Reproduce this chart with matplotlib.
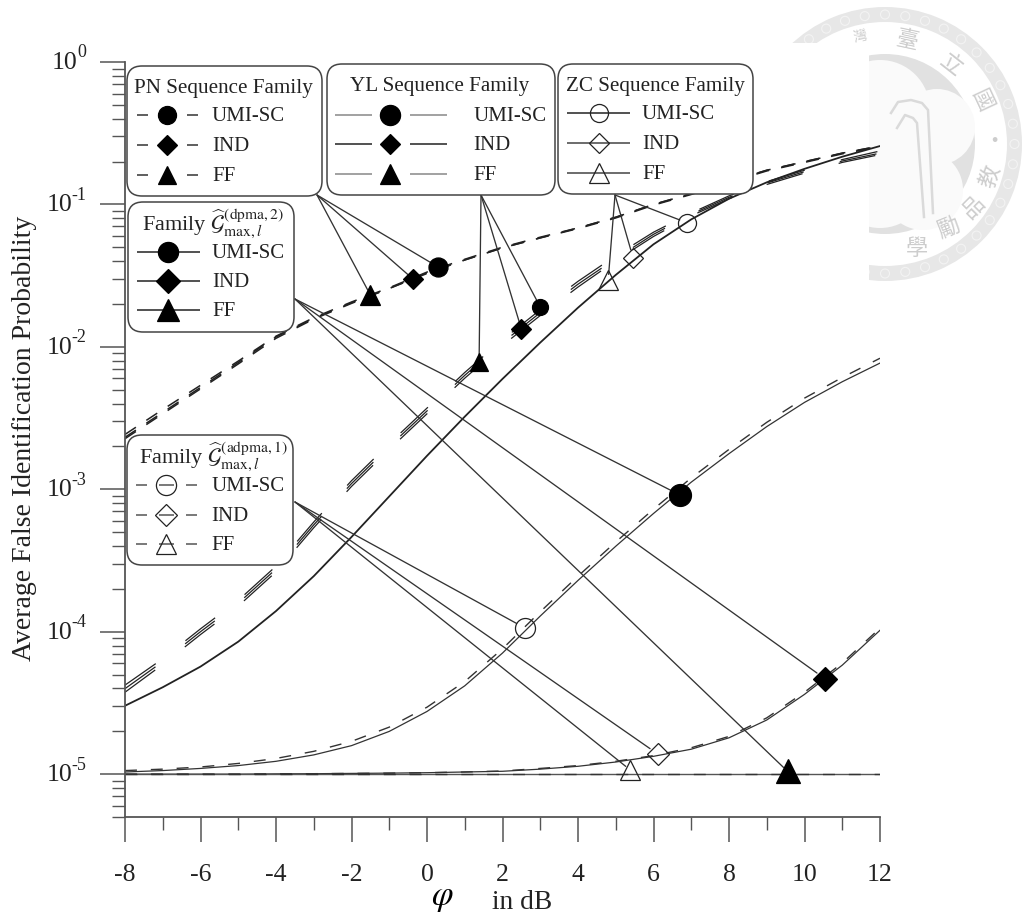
# -*- coding: utf-8 -*-
"""False identification probability vs phi for the sequence families."""
import numpy as np
import matplotlib
matplotlib.use("Agg")
import matplotlib.pyplot as plt
from matplotlib.patches import FancyBboxPatch, Wedge, Circle, Rectangle
from matplotlib.ticker import LogLocator, FixedLocator, NullFormatter

plt.rcParams['font.family'] = ['Liberation Serif', 'DejaVu Serif']
plt.rcParams['mathtext.fontset'] = 'stix'
plt.rcParams['axes.unicode_minus'] = False
plt.rcParams['lines.scale_dashes'] = False

W, H = 1024, 922
ink = '#222222'
axis_grey = '#555555'

# Data: log10 of the probability, one value per dB step
phi = [-8, -7, -6, -5, -4, -3, -2, -1, 0, 1, 2, 3, 4, 5, 6, 7, 8, 9, 10, 11, 12]

pn_umi = [-2.615, -2.44, -2.27, -2.10, -1.925, -1.795, -1.685, -1.585, -1.475, -1.385, -1.30,
          -1.23, -1.165, -1.09, -1.00, -0.925, -0.84, -0.76, -0.70, -0.64, -0.59]
pn_ind = [-2.635, -2.46, -2.285, -2.11, -1.93, -1.80, -1.69, -1.59, -1.48, -1.39, -1.305,
          -1.235, -1.165, -1.09, -1.00, -0.925, -0.84, -0.76, -0.70, -0.64, -0.59]
pn_ff = [-2.645, -2.47, -2.295, -2.12, -1.94, -1.805, -1.695, -1.59, -1.485, -1.39, -1.305,
         -1.235, -1.17, -1.095, -1.005, -0.93, -0.845, -0.765, -0.705, -0.645, -0.595]

yl_umi = [-4.375, -4.19, -3.98, -3.78, -3.54, -3.23, -2.94, -2.68, -2.43, -2.18, -1.95,
          -1.74, -1.54, -1.36, -1.195, -1.06, -0.94, -0.84, -0.76, -0.685, -0.625]
yl_ind = [-4.40, -4.21, -4.00, -3.80, -3.56, -3.25, -2.96, -2.70, -2.45, -2.20, -1.97,
          -1.76, -1.56, -1.38, -1.21, -1.07, -0.95, -0.85, -0.77, -0.695, -0.64]
yl_ff = [-4.425, -4.23, -4.02, -3.82, -3.58, -3.27, -2.98, -2.72, -2.47, -2.22, -1.99,
         -1.78, -1.58, -1.395, -1.225, -1.08, -0.96, -0.86, -0.78, -0.705, -0.65]

zc_all = [-4.52, -4.39, -4.245, -4.07, -3.855, -3.61, -3.335, -3.05, -2.765, -2.49, -2.225,
          -1.97, -1.725, -1.495, -1.28, -1.105, -0.96, -0.845, -0.75, -0.665, -0.59]

dpma_umi = [-4.985, -4.975, -4.96, -4.94, -4.91, -4.865, -4.80, -4.70, -4.56, -4.38, -4.15,
            -3.89, -3.64, -3.40, -3.17, -2.95, -2.75, -2.56, -2.39, -2.245, -2.114]
dpma_ind = [-5.0, -5.0, -5.0, -5.0, -4.998, -4.997, -4.995, -4.993, -4.99, -4.985, -4.98,
            -4.965, -4.945, -4.915, -4.875, -4.825, -4.745, -4.62, -4.44, -4.235, -3.99]
dpma_ff = [-5.0] * 21

adpma_umi = [-4.975, -4.965, -4.95, -4.925, -4.89, -4.84, -4.77, -4.67, -4.53, -4.35, -4.12,
             -3.86, -3.61, -3.37, -3.14, -2.92, -2.72, -2.53, -2.36, -2.215, -2.08]
adpma_ind = [-5.0, -5.0, -5.0, -5.0, -4.998, -4.997, -4.995, -4.993, -4.99, -4.985, -4.978,
             -4.96, -4.94, -4.91, -4.87, -4.815, -4.735, -4.605, -4.425, -4.22, -3.975]
adpma_ff = [-5.0] * 21

# Marker positions on the curves: UMI-SC, IND, FF
pn_mark_x, pn_mark_y = [0.3, -0.37, -1.5], [-1.44, -1.524, -1.636]
yl_mark_x, yl_mark_y = [3.0, 2.5, 1.38], [-1.72, -1.875, -2.107]
zc_mark_x, zc_mark_y = [6.9, 5.46, 4.8], [-1.13, -1.376, -1.53]
dpma_mark_x, dpma_mark_y = [6.7, 10.54, 9.55], [-3.04, -4.33, -4.98]
adpma_mark_x, adpma_mark_y = [2.6, 6.12, 5.38], [-3.975, -4.86, -4.97]

schemes = ['UMI-SC', 'IND', 'FF']
x_ticks = [-8, -6, -4, -2, 0, 2, 4, 6, 8, 10, 12]
x_minor = [-7, -5, -3, -1, 1, 3, 5, 7, 9, 11]
y_ticks = [1, 1e-1, 1e-2, 1e-3, 1e-4, 1e-5]
y_exps = ['0', '-1', '-2', '-3', '-4', '-5']

marker_shapes = ['o', 'D', '^']

fig = plt.figure(figsize=(W / 100, H / 100), dpi=100)


def pixel_axes(z):
    a = fig.add_axes([0, 0, 1, 1], zorder=z)
    a.set_xlim(0, W)
    a.set_ylim(H, 0)
    a.axis('off')
    return a


# Watermark seal behind everything
bg = pixel_axes(0)
seal_xy = (885, 144)
bg.add_patch(Wedge(seal_xy, 137, 0, 360, width=15, fc='#e7e7e7', ec='none'))
for ang in np.arange(0, 360, 9):
    cx = seal_xy[0] + 129.5 * np.cos(np.radians(ang))
    cy = seal_xy[1] + 129.5 * np.sin(np.radians(ang))
    bg.add_patch(Circle((cx, cy), 4.5, fc='none', ec='#f3f3f3', lw=0.8))
bg.add_patch(Circle(seal_xy, 90, fc='#e1e1e1', ec='none'))
bg.add_patch(Circle((937, 127), 38, fc='#fafafa', ec='none'))
bg.add_patch(Circle((923, 190), 40, fc='#fafafa', ec='none'))
bg.add_patch(Circle((880, 110), 50, fc='#fafafa', ec='none'))
bg.add_patch(Circle((880, 180), 48, fc='#fafafa', ec='none'))
bg.plot([924, 917, 913, 905, 897], [217, 123, 118, 115, 128], color='#dadada', lw=1.8)
bg.plot([933, 928, 922, 911, 898, 891], [213, 110, 103, 100, 102, 113], color='#dadada', lw=1.8)
seal_chars = ['灣', '臺', '立', '國', '•', '教', '品', '勵', '學']
seal_px = [(860, 37), (907, 40), (951, 65), (982, 100), (994, 142), (990, 177), (973, 207), (948, 228), (917, 248)]
seal_rot = [12, -12, -38, -65, 0, 70, 45, 22, 0]
for ch, (sx, sy), rot in zip(seal_chars, seal_px, seal_rot):
    bg.text(sx, sy, ch, fontsize=16 if ch != '灣' else 10, color='#cdcdcd', rotation=rot,
            ha='center', va='center', family=['Noto Sans CJK TC', 'DejaVu Sans'])
bg.add_patch(Rectangle((0, 43), 869, H - 43, fc='white', ec='none', zorder=5))

# Main axes
ax = fig.add_axes([125 / W, (H - 817) / H, (880 - 125) / W, (817 - 62) / H], zorder=1)
ax.patch.set_visible(False)
ax.set_yscale('log')
ax.set_xlim(-8, 12)
ax.set_ylim(5e-6, 1)


def to_prob(vals):
    return np.power(10.0, np.array(vals, dtype=float))


pn_style = (0, (9.4, 9.0))
yl_style = (0, (27, 27))
adpma_style = (0, (8.6, 10.0))

for curve in [yl_umi, yl_ind, yl_ff]:
    ax.plot(phi, to_prob(curve), color=ink, lw=0.9, ls=yl_style)
for curve in [pn_umi, pn_ind, pn_ff]:
    ax.plot(phi, to_prob(curve), color=ink, lw=1.1, ls=pn_style)
ax.plot(phi, to_prob(zc_all), color=ink, lw=1.3)
for curve in [dpma_umi, dpma_ind]:
    ax.plot(phi, to_prob(curve), color='#333333', lw=0.9)
ax.plot(phi, to_prob(dpma_ff), color='#555555', lw=1.0)
for curve in [adpma_umi, adpma_ind, adpma_ff]:
    ax.plot(phi, to_prob(curve), color='#333333', lw=1.0, ls=adpma_style)

ax.spines['top'].set_visible(False)
ax.spines['right'].set_visible(False)
for side in ['left', 'bottom']:
    ax.spines[side].set_linewidth(1.3)
    ax.spines[side].set_color(axis_grey)

ax.xaxis.set_major_locator(FixedLocator(x_ticks))
ax.xaxis.set_minor_locator(FixedLocator(x_minor))
ax.yaxis.set_major_locator(FixedLocator(y_ticks))
ax.yaxis.set_minor_locator(LogLocator(base=10, subs=range(2, 10), numticks=20))
ax.yaxis.set_major_formatter(NullFormatter())
ax.yaxis.set_minor_formatter(NullFormatter())
ax.tick_params(axis='both', which='major', length=18, width=1.1, color=axis_grey)
ax.tick_params(axis='both', which='minor', length=9.3, width=1.0, color=axis_grey)
ax.tick_params(axis='x', which='major', labelsize=18.5, pad=15.5, labelcolor=ink)
ax.set_xticklabels([str(v) for v in x_ticks])

# y tick labels: base and exponent apart so the exponent keeps a short hyphen
y_trans = ax.get_yaxis_transform()
for val, exp in zip(y_ticks, y_exps):
    ax.annotate(exp, xy=(-39 / 755, val), xycoords=y_trans, xytext=(0, 6.5),
                textcoords='offset points', fontsize=13, color=ink, ha='right', va='center')
    shift = 6 if exp == '0' else 10
    ax.annotate('10', xy=(-39 / 755, val), xycoords=y_trans, xytext=(-shift, -0.7),
                textcoords='offset points', fontsize=18.5, color=ink, ha='right', va='center')

# Boxes on top
ov = pixel_axes(2)


def add_leaders(origin, xs, ys, shrink):
    for mx, my, sh in zip(xs, ys, shrink):
        ax.annotate('', xy=(mx, 10.0 ** my), xycoords='data', xytext=origin, textcoords=ov.transData,
                    arrowprops=dict(arrowstyle='-', color='#333333', lw=0.95, shrinkA=0, shrinkB=sh),
                    zorder=3, annotation_clip=False)


def add_marks(xs, ys, sizes, filled):
    for mx, my, m, ms in zip(xs, ys, marker_shapes, sizes):
        ax.plot([mx], [10.0 ** my], marker=m, ms=ms, mfc='black' if filled else 'none',
                mec='black' if filled else '#222222', mew=0.9, ls='none', zorder=4, clip_on=False)


add_leaders((317, 195), pn_mark_x, pn_mark_y, [6, 5, 4])
add_leaders((481, 195), yl_mark_x, yl_mark_y, [5, 5, 4])
add_leaders((615, 195), zc_mark_x, zc_mark_y, [6, 6, 4])
add_leaders((295, 299), dpma_mark_x, dpma_mark_y, [7, 7, 4])
add_leaders((295, 502), adpma_mark_x, adpma_mark_y, [7, 7, 4])

add_marks(pn_mark_x, pn_mark_y, [13.7, 9.7, 14.4], True)
add_marks(yl_mark_x, yl_mark_y, [11.5, 10.0, 13.0], True)
add_marks(zc_mark_x, zc_mark_y, [13.0, 10.0, 14.4], False)
add_marks(dpma_mark_x, dpma_mark_y, [15.8, 12.2, 17.0], True)
add_marks(adpma_mark_x, adpma_mark_y, [14.4, 11.2, 14.4], False)


def add_box(x0, y0, x1, y1, title, title_x, title_y, title_size, rows, line_segs, mark_x, label_x,
            sizes, filled, line_cols):
    ov.add_patch(FancyBboxPatch((x0 + 15, y0 + 15), x1 - x0 - 30, y1 - y0 - 30,
                                boxstyle='round,pad=15,rounding_size=15', fc='white',
                                ec='#444444', lw=1.1, zorder=1))
    ov.text(title_x, title_y + 1, title, fontsize=title_size, color=ink, ha='center', va='center', zorder=3)
    for ry, label, m, ms, lc in zip(rows, schemes, marker_shapes, sizes, line_cols):
        for sx0, sx1 in line_segs:
            ov.plot([sx0, sx1], [ry, ry], color=lc, lw=1.1, solid_capstyle='butt', zorder=2)
        ov.plot([mark_x], [ry], marker=m, ms=ms, ls='none', mew=0.9, zorder=3,
                mfc='black' if filled else 'none', mec='black' if filled else '#222222')
        ov.text(label_x, ry + 1.5, label, fontsize=15, color=ink, ha='left', va='center', zorder=3)


dark = ['#333333'] * 3
add_box(127, 66, 322, 196, 'PN Sequence Family', 223, 87, 15.2, [115, 145, 175],
        [(137, 148), (187, 198)], 167, 212, [13.0, 9.7, 13.5], True, dark)
add_box(327, 64, 555, 195, 'YL Sequence Family', 440, 85, 15.2, [115, 144, 174],
        [(335, 372), (410, 447)], 390, 473, [14.5, 10.5, 14.0], True,
        ['#888888', '#222222', '#888888'])
add_box(558, 64, 753, 194, 'ZC Sequence Family', 655, 85, 15.2, [113, 143, 173],
        [(567, 630)], 599, 642, [13.0, 10.0, 14.4], False, ['#222222', '#444444', '#444444'])
add_box(128, 202, 294, 332, r'Family $\widehat{\mathcal{G}}_{\max,l}^{(\mathrm{dpma},2)}$', 213, 223, 16,
        [252, 281, 310], [(137, 200)], 168, 212, [14.5, 12.0, 15.5], True, ['#222222'] * 3)
add_box(127, 435, 293, 565, r'Family $\widehat{\mathcal{G}}_{\max,l}^{(\mathrm{adpma},1)}$', 214, 456, 16,
        [485, 515, 544], [(136, 147), (159, 174), (186, 197)], 166, 211, [14.5, 11.5, 14.5], False,
        ['#555555'] * 3)

# Axis titles
ov.text(25, 438, 'Average False Identification Probability', rotation=90, fontsize=20,
        color=ink, ha='center', va='center')
ov.text(442, 897, r'$\varphi$', fontsize=25, color='black', ha='center', va='center')
ov.text(492, 902, 'in dB', fontsize=19.8, color=ink, ha='left', va='center')

fig.savefig('out.png', dpi=100)
